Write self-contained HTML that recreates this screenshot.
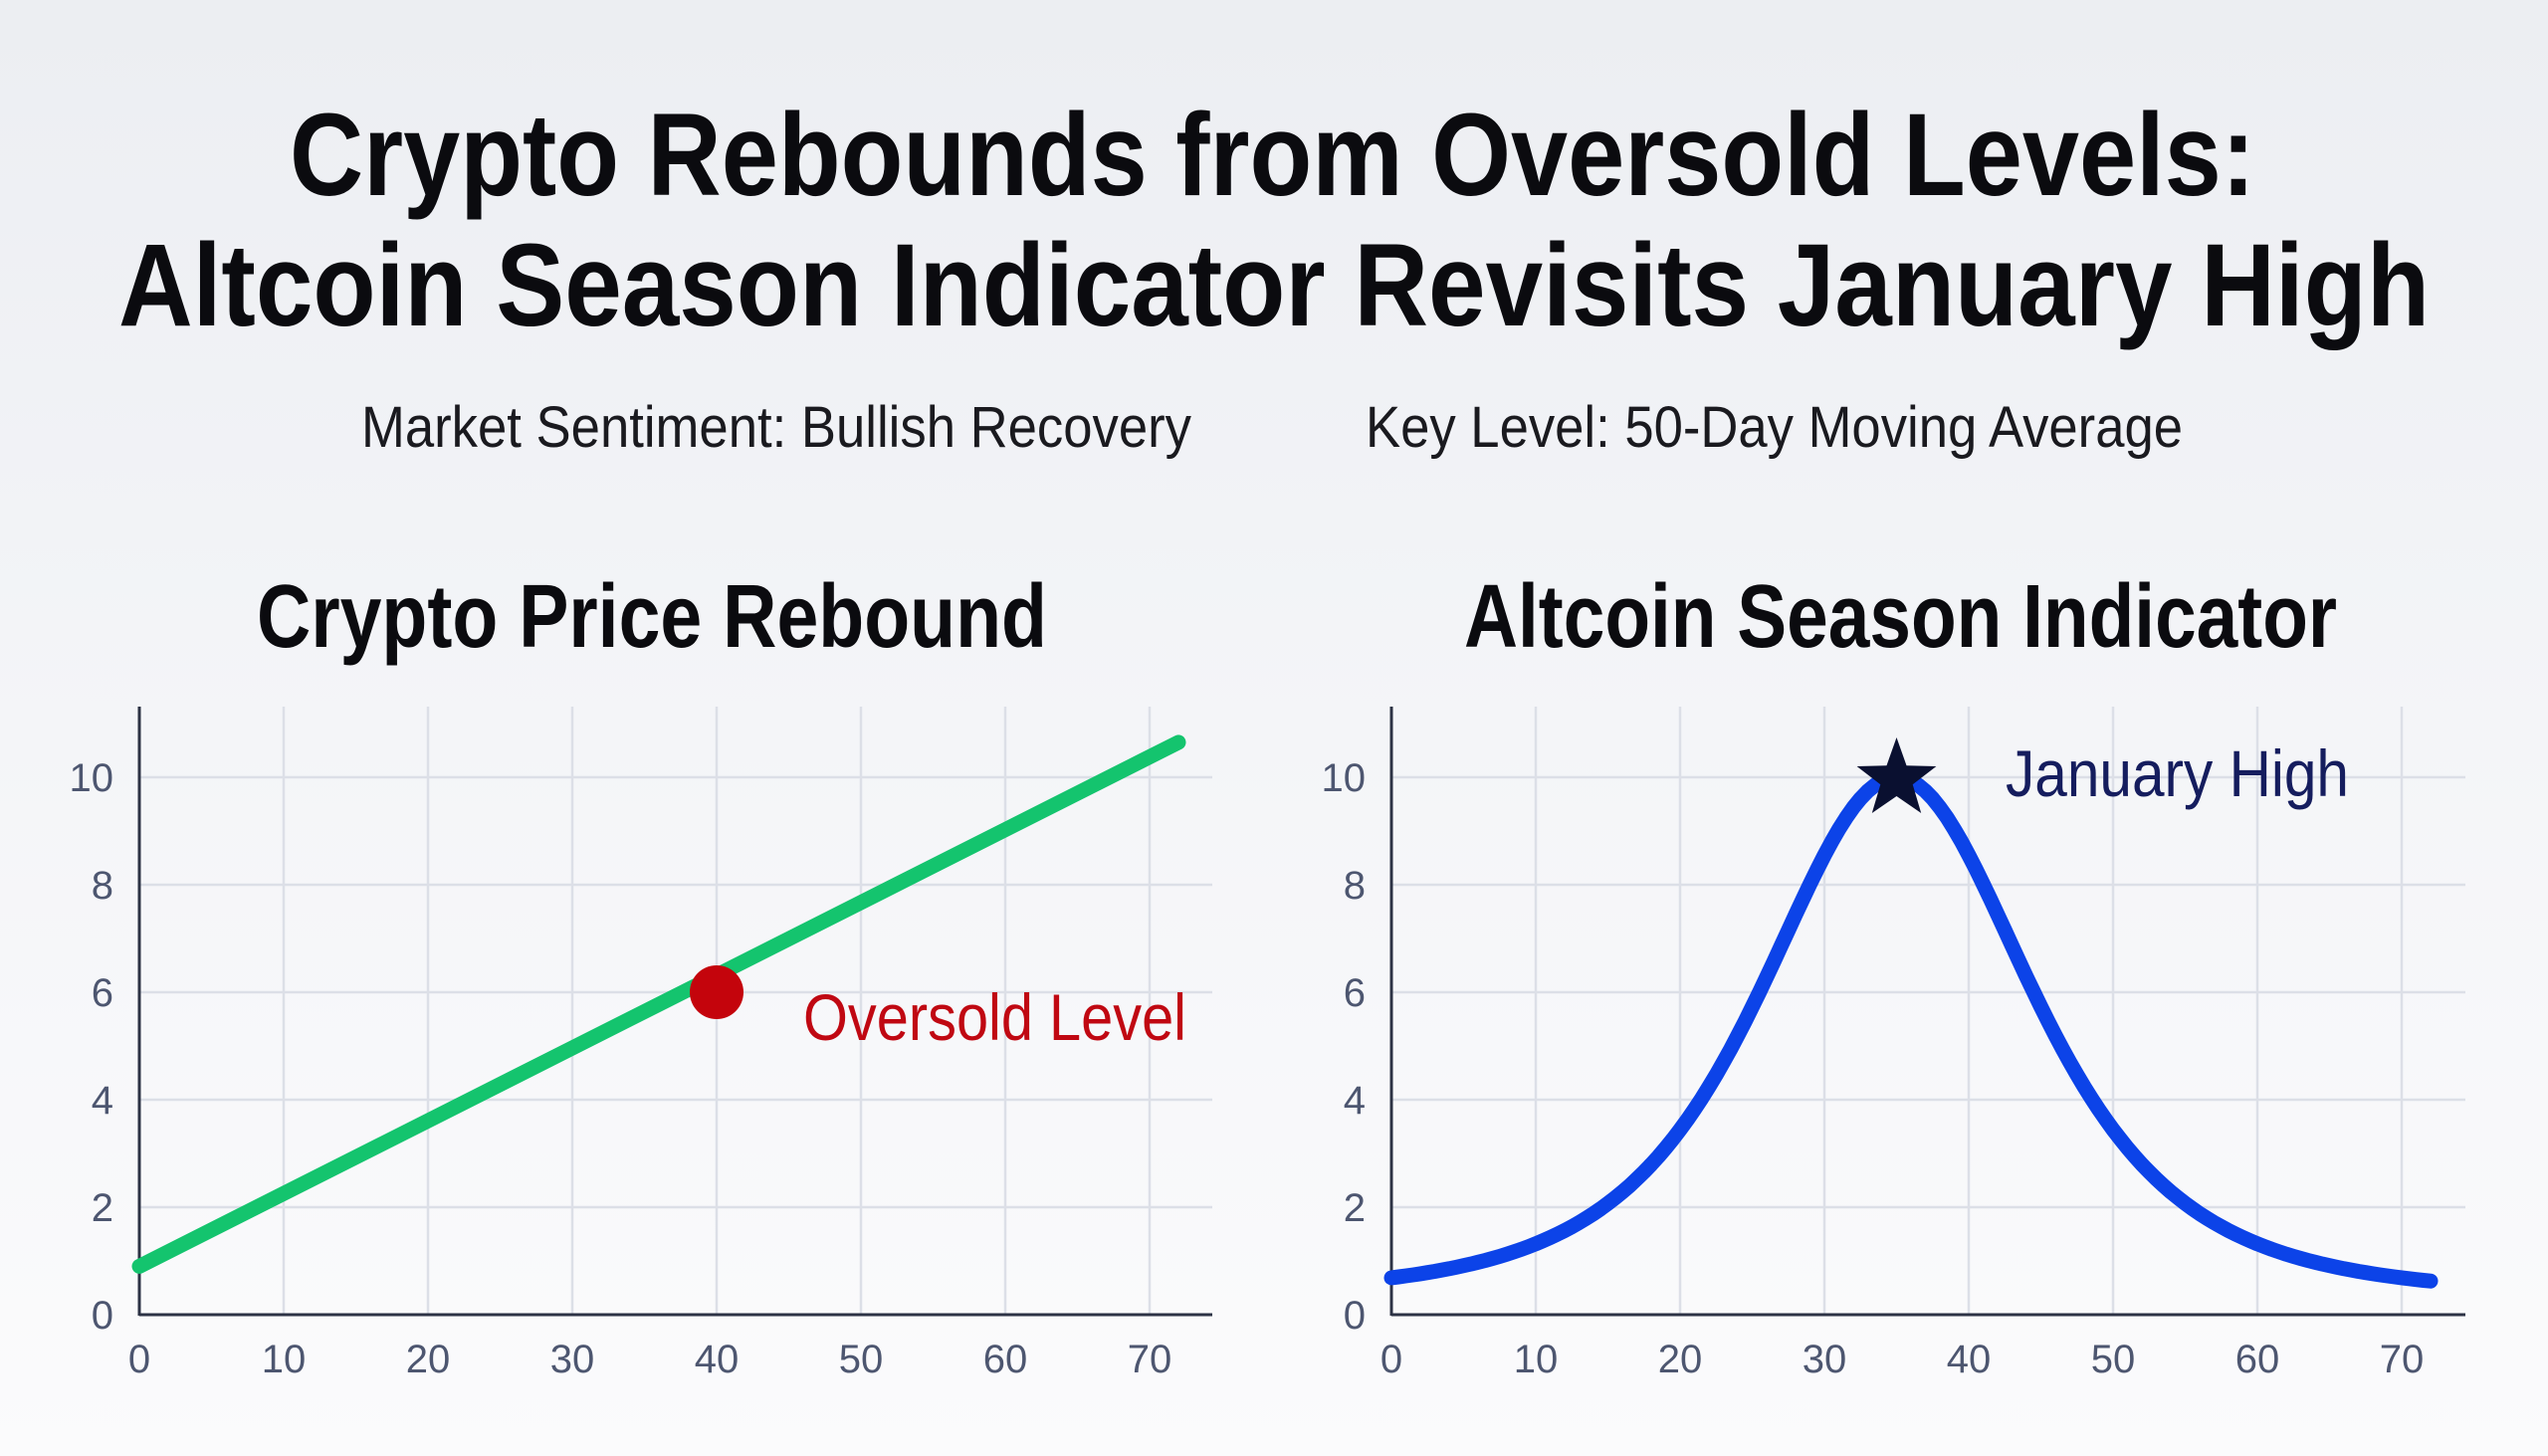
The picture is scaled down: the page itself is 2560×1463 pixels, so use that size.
<!DOCTYPE html>
<html><head><meta charset="utf-8"><style>
html,body{margin:0;padding:0;}
body{width:2560px;height:1463px;overflow:hidden;background:linear-gradient(#eceef2,#f4f5f8 50%,#fbfbfc);}
svg{display:block;}
text{font-family:"Liberation Sans",sans-serif;}
</style></head><body>
<svg id="s" width="2560" height="1463" viewBox="0 0 2560 1463" xmlns="http://www.w3.org/2000/svg">
<text x="291" y="196" font-size="118" font-weight="bold" fill="#0b0b0f" textLength="1975" lengthAdjust="spacingAndGlyphs">Crypto Rebounds from Oversold Levels:</text>
<text x="119" y="327" font-size="118" font-weight="bold" fill="#0b0b0f" textLength="2322" lengthAdjust="spacingAndGlyphs">Altcoin Season Indicator Revisits January High</text>
<text x="363" y="449" font-size="58" fill="#1a1a1f" textLength="834" lengthAdjust="spacingAndGlyphs">Market Sentiment: Bullish Recovery</text>
<text x="1372" y="449" font-size="58" fill="#1a1a1f" textLength="821" lengthAdjust="spacingAndGlyphs">Key Level: 50-Day Moving Average</text>
<text x="258" y="650" font-size="90" font-weight="bold" fill="#0b0b0f" textLength="794" lengthAdjust="spacingAndGlyphs">Crypto Price Rebound</text>
<text x="1471" y="650" font-size="90" font-weight="bold" fill="#0b0b0f" textLength="877" lengthAdjust="spacingAndGlyphs">Altcoin Season Indicator</text>
<g id="g"></g>
<text x="807" y="1045" font-size="66" fill="#c00812" textLength="385" lengthAdjust="spacingAndGlyphs">Oversold Level</text>
<text x="2015" y="800" font-size="66" fill="#151d5e" textLength="345" lengthAdjust="spacingAndGlyphs">January High</text>
</svg>
<script>
var g=document.getElementById('g'),h='';
function chart(x0,xEnd){
  var dx=14.5,y0=1321,dy=54;
  for(var i=1;i<=7;i++){var x=x0+i*10*dx;h+='<line x1="'+x+'" y1="710" x2="'+x+'" y2="1321" stroke="#dcdfe7" stroke-width="2.5"/>';}
  for(var j=1;j<=5;j++){var y=y0-j*2*dy;h+='<line x1="'+x0+'" y1="'+y+'" x2="'+xEnd+'" y2="'+y+'" stroke="#dcdfe7" stroke-width="2.5"/>';}
  h+='<line x1="'+x0+'" y1="710" x2="'+x0+'" y2="1322" stroke="#2d3345" stroke-width="3"/>';
  h+='<line x1="'+x0+'" y1="1321" x2="'+xEnd+'" y2="1321" stroke="#2d3345" stroke-width="3"/>';
  for(var i=0;i<=7;i++){h+='<text x="'+(x0+i*10*dx)+'" y="1379" font-size="40" fill="#4d5670" text-anchor="middle">'+(i*10)+'</text>';}
  for(var j=0;j<=5;j++){h+='<text x="'+(x0-26)+'" y="'+(y0-j*2*dy+14)+'" font-size="40" fill="#4d5670" text-anchor="end">'+(j*2)+'</text>';}
}
chart(140,1218);chart(1398,2477);
h+='<line x1="140" y1="'+(1321-0.9*54)+'" x2="'+(140+72*14.5)+'" y2="'+(1321-10.65*54)+'" stroke="#14c46e" stroke-width="15" stroke-linecap="round"/>';
h+='<circle cx="'+(140+40*14.5)+'" cy="'+(1321-6*54)+'" r="27" fill="#c4040c"/>';
var p='';for(var x=0;x<=72;x+=0.5){var u=(x-35)/17.2;var v=0.32+9.68/Math.pow(1+u*u,2);p+=(x?'L':'M')+(1398+x*14.5).toFixed(1)+' '+(1321-v*54).toFixed(1);}
h+='<path d="'+p+'" fill="none" stroke="#0c43e8" stroke-width="15" stroke-linecap="round" stroke-linejoin="round"/>';
var cx=1398+35*14.5,cy=1321-10*54+2,R=42,r=17,s='';
for(var k=0;k<10;k++){var a=-Math.PI/2+k*Math.PI/5,rr=k%2?r:R;s+=(cx+rr*Math.cos(a)).toFixed(1)+','+(cy+rr*Math.sin(a)).toFixed(1)+' ';}
h+='<polygon points="'+s+'" fill="#0a1030"/>';
g.innerHTML=h;
</script>
</body></html>
